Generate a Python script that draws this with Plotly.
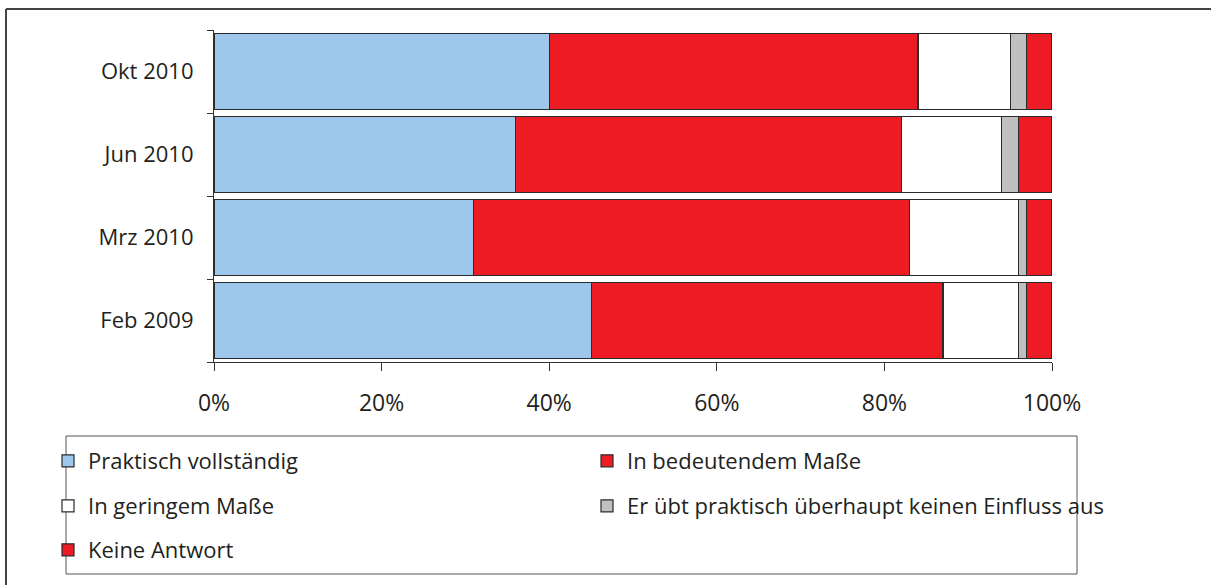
import plotly.graph_objects as go

categories = ["Feb 2009", "Mrz 2010", "Jun 2010", "Okt 2010"]
series_names = [
    "Praktisch vollständig",
    "In bedeutendem Maße",
    "In geringem Maße",
    "Er übt praktisch überhaupt keinen Einfluss aus",
    "Keine Antwort",
]
praktisch = [45, 31, 36, 40]
bedeutend = [42, 52, 46, 44]
gering = [9, 13, 12, 11]
kein_einfluss = [1, 1, 2, 2]
keine_antwort = [3, 3, 4, 3]
x_ticks = [0, 20, 40, 60, 80, 100]

values = [praktisch, bedeutend, gering, kein_einfluss, keine_antwort]
colors = ["#9DC8EB", "#ED1C24", "#FFFFFF", "#C0C0C0", "#ED1C24"]
legend_ids = ["legend", "legend2", "legend3", "legend4", "legend5"]

FONT = "Open Sans"
TXT = "#231F20"

fig = go.Figure()
for name, vals, col, lg in zip(series_names, values, colors, legend_ids):
    fig.add_trace(go.Bar(
        y=categories, x=vals, name=name, orientation="h",
        marker=dict(color=col, line=dict(color="#2a2a2a", width=1.2)),
        legend=lg,
    ))

W, H = 1211, 585
L, R, T, B = 214, W - 1052, 30, H - 362
pw, ph = W - L - R, H - T - B

def px(x):
    return (x - L) / pw

def py(y):
    return (H - B - y) / ph

def leg(xpix, ypix):
    return dict(
        orientation="v", xanchor="left", yanchor="middle",
        x=px(xpix), y=py(ypix),
        font=dict(family=FONT, size=22, color=TXT),
        bgcolor="rgba(0,0,0,0)", borderwidth=0, itemclick=False,
    )

col1, col2 = 48, 587
row1, row2, row3 = 461, 506, 550

fig.update_layout(
    width=W, height=H,
    margin=dict(l=L, r=R, t=T, b=B),
    barmode="stack", bargap=0.09,
    plot_bgcolor="white", paper_bgcolor="white",
    font=dict(family=FONT, size=22, color=TXT),
    showlegend=True,
    legend=leg(col1, row1),
    legend2=leg(col2, row1),
    legend3=leg(col1, row2),
    legend4=leg(col2, row2),
    legend5=leg(col1, row3),
    xaxis=dict(
        range=[0, 100], tickvals=x_ticks, ticktext=[f"{v}%" for v in x_ticks],
        showgrid=False, zeroline=False, showline=True, linecolor="#333", linewidth=1.2,
        ticks="outside", ticklen=8, tickcolor="#333", ticklabelstandoff=12,
        tickfont=dict(family=FONT, size=23, color=TXT), fixedrange=True,
        automargin=False,
    ),
    yaxis=dict(
        categoryorder="array", categoryarray=categories,
        showgrid=False, zeroline=False, showline=True, linecolor="#333", linewidth=1.2,
        ticks="outside", ticklen=6, tickcolor="#333", tickson="boundaries",
        ticklabelstandoff=15,
        tickfont=dict(family=FONT, size=22, color=TXT), fixedrange=True,
        automargin=False,
    ),
    shapes=[
        dict(type="rect", xref="paper", yref="paper",
             x0=px(66), x1=px(1077), y0=py(436), y1=py(574),
             line=dict(color="#555", width=1), fillcolor="rgba(0,0,0,0)", layer="below"),
        dict(type="line", xref="paper", yref="paper",
             x0=px(6), x1=px(1211), y0=py(9), y1=py(9),
             line=dict(color="#444", width=2)),
        dict(type="line", xref="paper", yref="paper",
             x0=px(6), x1=px(6), y0=py(9), y1=py(585),
             line=dict(color="#444", width=2)),
    ],
)

fig.write_html(
    "out.html",
    config={"displayModeBar": False},
    post_script="document.body.style.margin='0';document.body.style.overflow='hidden';",
)
